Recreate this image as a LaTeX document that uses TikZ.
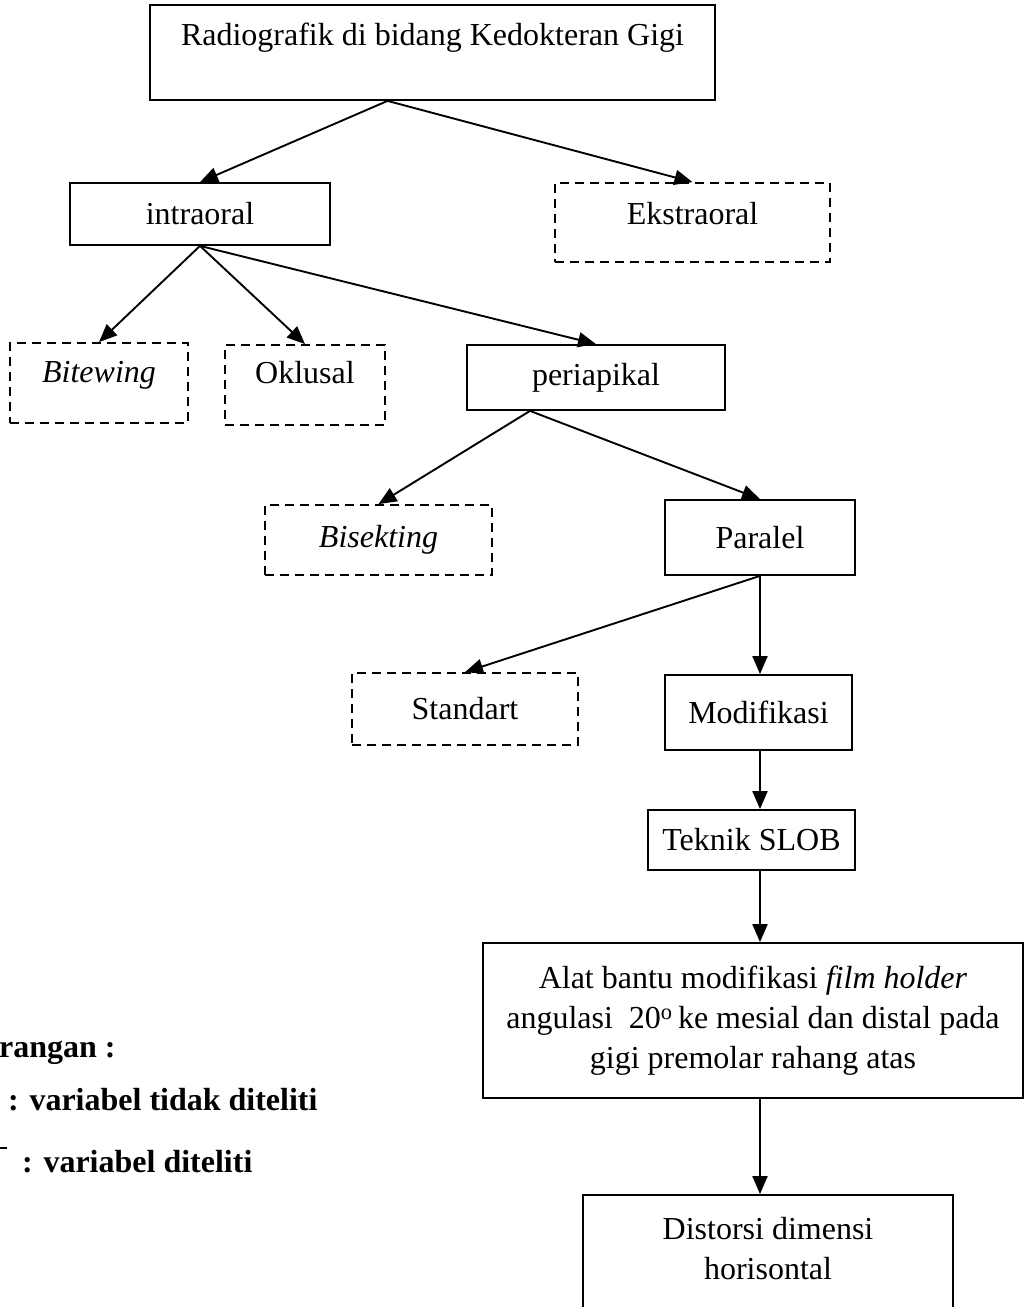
\documentclass[tikz,border=0pt]{standalone}
\usepackage{fontspec}
\setmainfont{Liberation Serif}
\usetikzlibrary{arrows.meta,calc}
\begin{document}
\begin{tikzpicture}[x=1pt,y=-1pt,
  font=\fontsize{32}{40}\selectfont,
  box/.style={draw,line width=1.8pt,inner sep=0pt,align=center},
  dbox/.style={box,dash pattern=on 9pt off 6pt},
  arr/.style={line width=1.9pt,-{Triangle[length=18pt,width=15pt]}},
  legend/.style={font=\fontsize{32}{36}\selectfont\bfseries,anchor=west,inner sep=0pt}]
\useasboundingbox (0,0) rectangle (1026,1307);
\clip (0,0) rectangle (1026,1307);

\node[box,minimum width=565pt,minimum height=95pt,text depth=37pt] (top) at (432.5,52.5) {Radiografik di bidang Kedokteran Gigi};
\node[box,minimum width=260pt,minimum height=62pt] (intra) at (200,214) {intraoral};
\node[dbox,minimum width=275pt,minimum height=79pt,text depth=18pt] (ekstra) at (692.5,222.5) {Ekstraoral};
\node[dbox,minimum width=178pt,minimum height=80pt,text depth=22pt] (bite) at (99,383) {\itshape Bitewing};
\node[dbox,minimum width=160pt,minimum height=80pt,text depth=26pt] (okl) at (305,385) {Oklusal};
\node[box,minimum width=258pt,minimum height=65pt] (peri) at (596,377.5) {periapikal};
\node[dbox,minimum width=227pt,minimum height=70pt] (bis) at (378.5,540) {\itshape Bisekting};
\node[box,minimum width=190pt,minimum height=75pt] (para) at (760,537.5) {Paralel};
\node[dbox,minimum width=226pt,minimum height=72pt] (std) at (465,709) {Standart};
\node[box,minimum width=187pt,minimum height=75pt] (mod) at (758.5,712.5) {Modifikasi};
\node[box,minimum width=207pt,minimum height=60pt] (slob) at (751.5,840) {Teknik SLOB};
\node[box,minimum width=540pt,minimum height=155pt] (alat) at (753,1020.5)
  {Alat bantu modifikasi \textit{film holder}\\angulasi \ 20\textsuperscript{o}\,ke mesial dan distal pada\\gigi premolar rahang atas};
\node[box,minimum width=370pt,minimum height=140pt] (dist) at (768,1265) {};
\node[inner sep=0pt,align=center] (distT) at (768,1249) {Distorsi dimensi\\horisontal};

\draw[arr] ([xshift=-45pt]top.south) -- (intra.north);
\draw[arr] ([xshift=-45pt]top.south) -- (ekstra.north);
\draw[arr] (intra.south) -- (bite.north);
\draw[arr] (intra.south) -- (okl.north);
\draw[arr] (intra.south) -- (peri.north);
\draw[arr] ([xshift=-66pt]peri.south) -- (bis.north);
\draw[arr] ([xshift=-66pt]peri.south) -- (para.north);
\draw[arr] (para.south) -- (std.north);
\draw[arr] (para.south) -- (para.south |- mod.north);
\draw[arr] (para.south |- mod.south) -- (para.south |- slob.north);
\draw[arr] (para.south |- slob.south) -- (para.south |- alat.north);
\draw[arr] (para.south |- alat.south) -- (para.south |- dist.north);

\node[legend] (k1) at (-1,1053) {rangan :};
\node[legend] (k2) at (8,1100) {: variabel tidak diteliti};
\node[legend] (k3) at (22,1162) {: variabel diteliti};
\coordinate (s1) at (0,1148);
\coordinate (s2) at (7,1148);
\draw[line width=2.5pt] (s1) -- (s2);
\end{tikzpicture}
\end{document}
